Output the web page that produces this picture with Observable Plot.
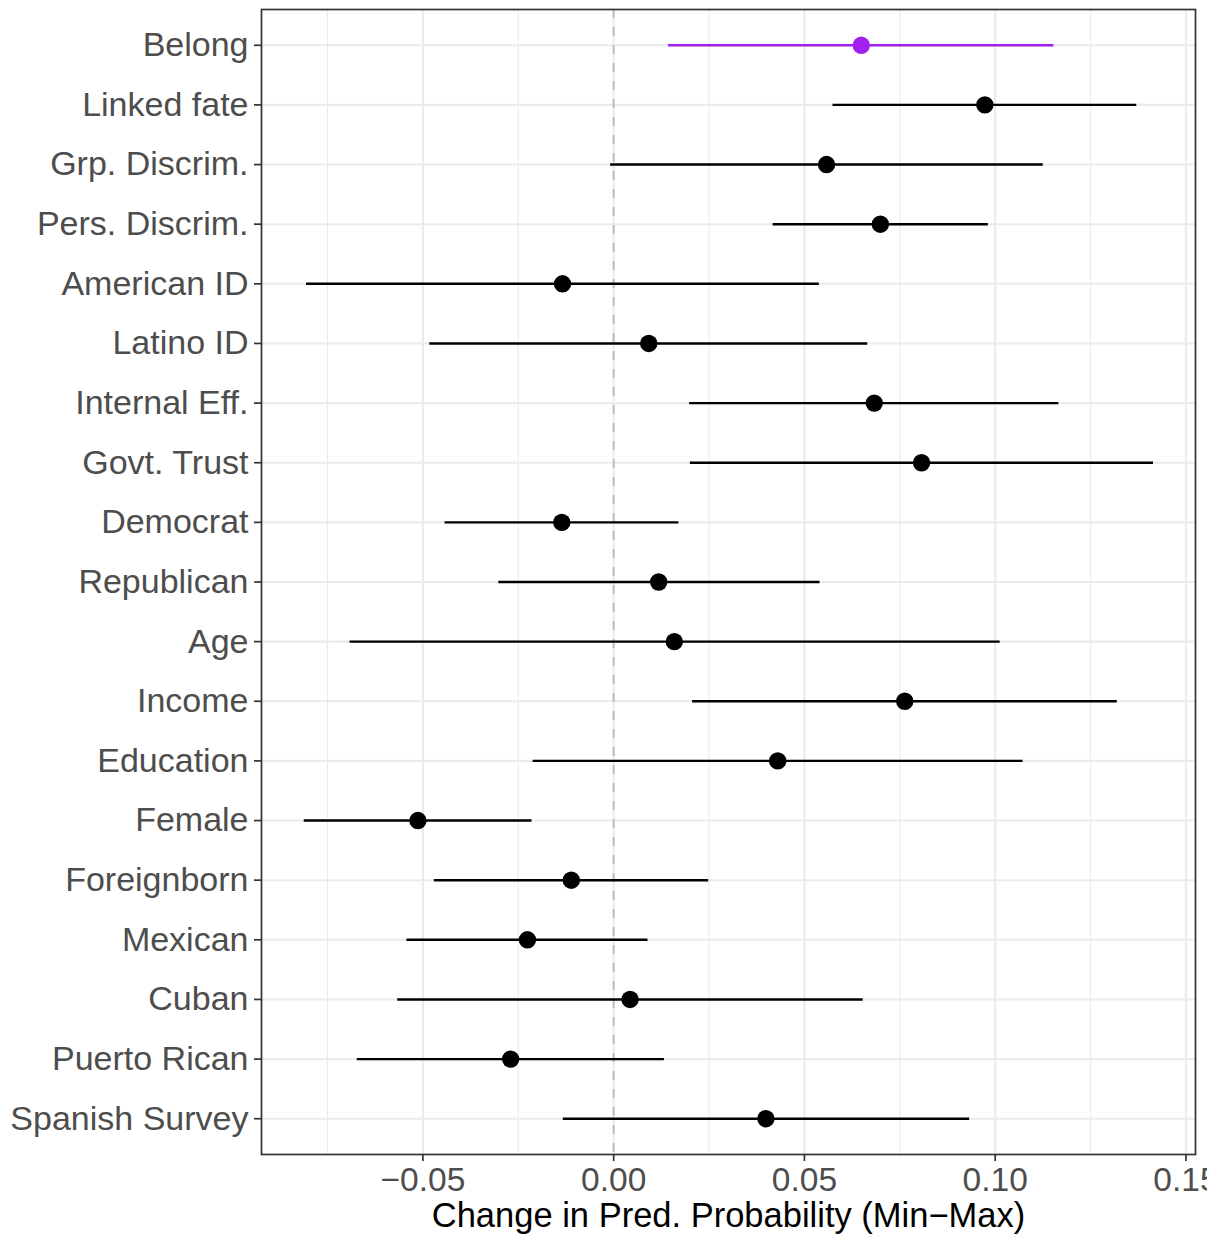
<!DOCTYPE html>
<html>
<head>
<meta charset="utf-8">
<script src="https://cdn.jsdelivr.net/npm/d3@7"></script>
<script src="https://cdn.jsdelivr.net/npm/@observablehq/plot@0.6"></script>
<style>
  html, body { margin: 0; padding: 0; background: white; overflow: hidden; }
  #chart svg { overflow: hidden; }
</style>
</head>
<body>
<div id="chart"></div>
<script>
// ---- data ----
const labels = ["Belong", "Linked fate", "Grp. Discrim.", "Pers. Discrim.", "American ID", "Latino ID",
  "Internal Eff.", "Govt. Trust", "Democrat", "Republican", "Age", "Income", "Education", "Female",
  "Foreignborn", "Mexican", "Cuban", "Puerto Rican", "Spanish Survey"];
const estimates = [0.0649, 0.0973, 0.0558, 0.0699, -0.0134, 0.0092, 0.0683, 0.0807, -0.0136, 0.0118,
  0.0159, 0.0763, 0.0430, -0.0513, -0.0111, -0.0226, 0.0043, -0.0270, 0.0399];
const lower = [0.0144, 0.0575, -0.0008, 0.0418, -0.0805, -0.0482, 0.0199, 0.0201, -0.0442, -0.0301,
  -0.0691, 0.0207, -0.0211, -0.0811, -0.0470, -0.0542, -0.0566, -0.0672, -0.0132];
const upper = [0.1154, 0.1371, 0.1126, 0.0982, 0.0539, 0.0666, 0.1167, 0.1415, 0.0171, 0.0541,
  0.1013, 0.1320, 0.1073, -0.0214, 0.0249, 0.0090, 0.0654, 0.0133, 0.0933];
const highlighted = ["Belong"];
const majorTicks = [-0.05, 0, 0.05, 0.10, 0.15];
const minorTicks = [-0.075, -0.025, 0.025, 0.075, 0.125];
const xLabel = "Change in Pred. Probability (Min\u2212Max)";

const rows = labels.map((label, i) => ({label, est: estimates[i], lo: lower[i], hi: upper[i]}));
const isHi = d => highlighted.includes(d.label);

const grid = "#EBEBEB";
const font = "'Liberation Sans', Arial, Helvetica, sans-serif";

const chart = Plot.plot({
  width: 1207,
  height: 1237,
  marginLeft: 261,
  marginRight: 12,
  marginTop: 9,
  marginBottom: 83,
  style: {fontFamily: font, background: "white"},
  x: {domain: [-0.0923, 0.1525], label: null},
  y: {type: "point", domain: labels, padding: 0.6, round: false, label: null},
  marks: [
    Plot.ruleX(minorTicks, {stroke: grid, strokeWidth: 1.1}),
    Plot.ruleX(majorTicks, {stroke: grid, strokeWidth: 2.1}),
    Plot.ruleY(labels, {y: d => d, stroke: grid, strokeWidth: 2.1}),
    Plot.ruleX([0], {stroke: "#BEBEBE", strokeWidth: 2, strokeDasharray: "9,9"}),
    Plot.ruleY(rows, {filter: d => !isHi(d), y: "label", x1: "lo", x2: "hi", stroke: "black", strokeWidth: 2.4}),
    Plot.ruleY(rows, {filter: isHi, y: "label", x1: "lo", x2: "hi", stroke: "#A020F0", strokeWidth: 2.4}),
    Plot.dot(rows, {filter: d => !isHi(d), x: "est", y: "label", r: 8.7, fill: "black", stroke: null}),
    Plot.dot(rows, {filter: isHi, x: "est", y: "label", r: 8.7, fill: "#A020F0", stroke: null}),
    Plot.frame({stroke: "#333333", strokeWidth: 1.7}),
    Plot.axisX({ticks: majorTicks, tickFormat: d3.format(".2f"), tickSize: 7, tickPadding: 6,
      fontSize: 33.5, fill: "#4D4D4D", stroke: "#333333", strokeWidth: 1.7, label: null}),
    Plot.axisY({tickSize: 7, tickPadding: 6, fontSize: 34, fill: "#4D4D4D", stroke: "#333333",
      strokeWidth: 1.7, label: null}),
    Plot.text([xLabel], {frameAnchor: "bottom", text: d => d, dy: 72, lineAnchor: "bottom",
      fontSize: 34.5, fill: "black"})
  ]
});
document.getElementById("chart").appendChild(chart);
</script>
</body>
</html>
